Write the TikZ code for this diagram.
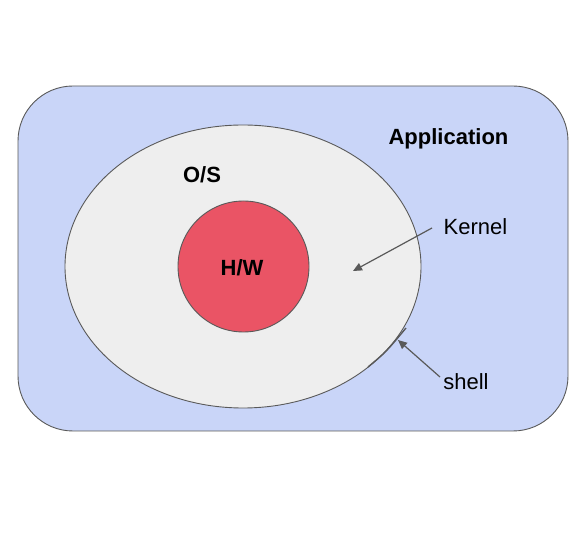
\documentclass[tikz,border=0pt]{standalone}
\usepackage{fontspec}
\setmainfont{Liberation Sans}
\usetikzlibrary{arrows.meta,shapes.geometric}
\definecolor{appblue}{HTML}{C9D5F8}
\definecolor{osgray}{HTML}{EEEEEE}
\definecolor{hwred}{HTML}{EA5465}
\definecolor{edge}{HTML}{595959}
\tikzset{
  shapeline/.style={draw=edge, line width=0.9pt},
  lbl/.style={font=\fontsize{22}{26}\selectfont, text=black, inner sep=0pt},
  blbl/.style={lbl, font=\fontsize{22}{26}\selectfont\bfseries},
  pointer/.style={draw=edge, line width=1.2pt, -{Triangle[length=9pt,width=8pt]}}
}
\begin{document}
\begin{tikzpicture}[x=1pt,y=-1pt]
\useasboundingbox (0,0) rectangle (587,553);
\draw[shapeline, fill=appblue, rounded corners=55pt] (18,86) rectangle (568,431);
\node[shapeline, fill=osgray, ellipse, minimum width=356pt, minimum height=283pt, inner sep=0pt] (os) at (243,266.5) {};
\node[shapeline, fill=hwred, circle, minimum size=131pt, inner sep=0pt] (hw) at (243.5,266.5) {};
\node[blbl] (app) at (448.5,139) {Application};
\node[blbl] (ostxt) at (202,175) {O/S};
\node[blbl] (hwtxt) at (242,268) {H/W};
\node[lbl] (kernel) at (475.5,227) {Kernel};
\node[lbl] (shell) at (466,382) {shell};
\coordinate (ktip) at (353,271);
\coordinate (kstart) at (432,228);
\coordinate (stip) at (398,340);
\coordinate (sstart) at (440,377);
\coordinate (sh1) at (368,367);
\coordinate (sh2) at (406,328);
\draw[pointer] (kstart) -- (ktip);
\draw[pointer] (sstart) -- (stip);
\draw[draw=edge, line width=1.4pt] (sh1) .. controls (386,352) .. (sh2);
\end{tikzpicture}
\end{document}
